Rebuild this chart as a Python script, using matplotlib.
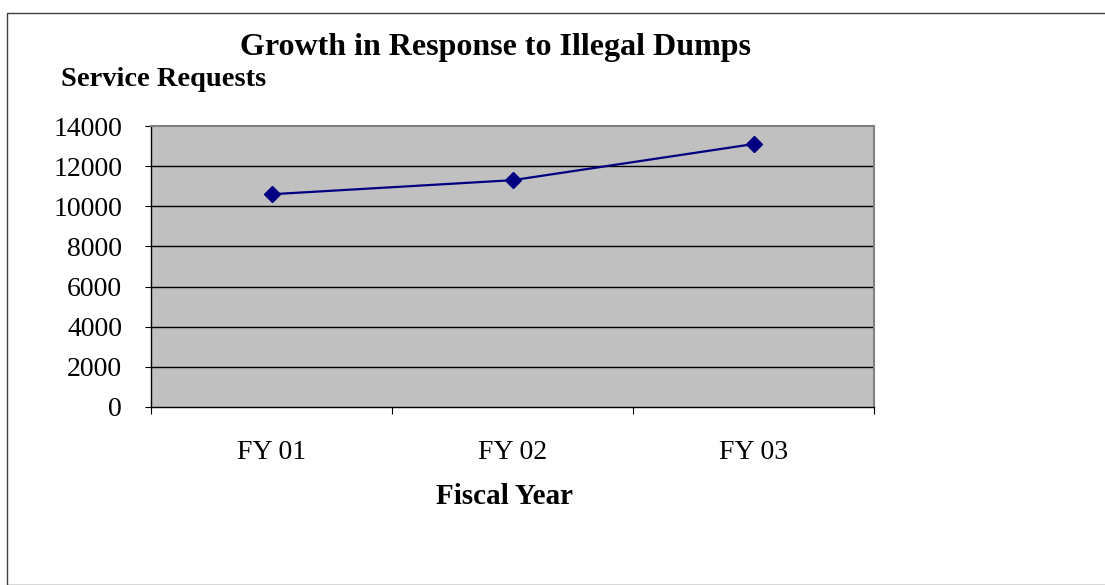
import matplotlib
matplotlib.use("Agg")
import matplotlib.pyplot as plt
from matplotlib.patches import Rectangle

categories = ["FY 01", "FY 02", "FY 03"]
requests = [10600, 11300, 13100]
yticks = [0, 2000, 4000, 6000, 8000, 10000, 12000, 14000]

plt.rcParams['font.family'] = ['Liberation Serif', 'DejaVu Serif']

W, H = 1105, 585
fig = plt.figure(figsize=(W/100, H/100), dpi=100)
fig.patch.set_facecolor('white')

# outer chart border
fig.add_artist(Rectangle((7/W, 0), 1.2, 1 - 13/H, transform=fig.transFigure,
                         fill=False, edgecolor='#404040', linewidth=1.0))

left, right, top, bottom = 151, 874, 126, 407
ax = fig.add_axes([left/W, 1 - bottom/H, (right-left)/W, (bottom-top)/H])
ax.set_facecolor('#C0C0C0')

x = list(range(1, len(categories)+1))
ax.set_xlim(0.5, len(categories)+0.5)
ax.set_ylim(0, 14000)
ax.set_yticks(yticks)
ax.set_yticklabels([str(v) for v in yticks], fontsize=20)
for v in yticks[1:-1]:
    ax.axhline(v, color='black', linewidth=1.0, zorder=1)

ax.set_xticks([i + 0.5 for i in range(0, len(categories)+1)])
ax.set_xticklabels([])
ax.set_xticks(x, minor=True)
ax.set_xticklabels(categories, minor=True, fontsize=20)
ax.tick_params(axis='x', which='minor', length=0, pad=24)
ax.tick_params(axis='x', which='major', length=5, direction='out', color='black')
ax.tick_params(axis='y', length=4.3, direction='out', color='black', pad=16.5)

ax.plot(x, requests, color='#000080', linewidth=1.6, marker='D', markersize=8,
        markerfacecolor='#000080', markeredgecolor='#000080', zorder=3, clip_on=False)

for s in ['top', 'right']:
    ax.spines[s].set_color('#808080')
    ax.spines[s].set_linewidth(1.5)
for s in ['left', 'bottom']:
    ax.spines[s].set_color('black')
    ax.spines[s].set_linewidth(1.0)

fig.text(495/W, 1 - 47/H, "Growth in Response to Illegal Dumps", ha='center', va='center',
         fontsize=23, fontweight='bold')
fig.text(61/W, 1 - 80/H, "Service Requests", ha='left', va='center',
         fontsize=20.5, fontweight='bold')
fig.text(504/W, 1 - 496/H, "Fiscal Year", ha='center', va='center',
         fontsize=21, fontweight='bold')

fig.savefig("out.png", dpi=100, facecolor='white')
